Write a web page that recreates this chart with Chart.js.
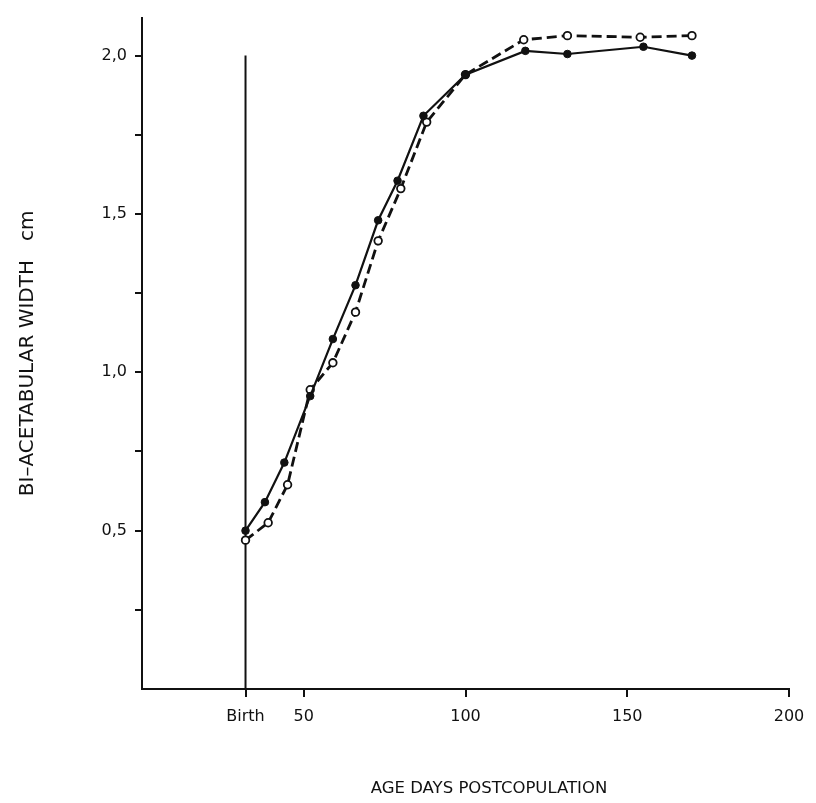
<!DOCTYPE html>
<html lang="en">
<head>
    <meta charset="UTF-8">
    <title>Bi-acetabular width</title>
    <script src="https://cdn.jsdelivr.net/npm/chart.js@4/dist/chart.umd.min.js"></script>
    <style>
        html, body { margin: 0; padding: 0; background: #fff; }
        .grafica { width: 816px; height: 803px; }
    </style>
</head>
<body>
    <div class="grafica">
        <canvas id="miCanvas" width="816" height="803"></canvas>
    </div>
    <script>
        // age in days postcopulation, width in cm
        const birthDay = 32;
        const solidAge = [32, 38, 44, 52, 59, 66, 73, 79, 87, 100, 118.5, 131.5, 155, 170];
        const solidWidth = [0.50, 0.59, 0.715, 0.925, 1.105, 1.275, 1.48, 1.605, 1.81, 1.94, 2.015, 2.005, 2.028, 2.0];
        const openAge = [32, 39, 45, 52, 59, 66, 73, 80, 88, 100, 118, 131.5, 154, 170];
        const openWidth = [0.47, 0.525, 0.645, 0.945, 1.03, 1.19, 1.415, 1.58, 1.79, 1.94, 2.05, 2.063, 2.058, 2.063];

        const xTicks = [32, 50, 100, 150, 200];
        const xTickLabels = ['Birth', '50', '100', '150', '200'];
        const yTicks = [0.25, 0.5, 0.75, 1.0, 1.25, 1.5, 1.75, 2.0];
        const yTickLabels = ['', '0,5', '', '1,0', '', '1,5', '', '2,0'];

        const toPoints = (xs, ys) => xs.map((x, i) => ({x: x, y: ys[i]}));

        const font = '"DejaVu Sans", Verdana, sans-serif';

        // x title sits a little right of the axis centre
        const xTitleShift = {
            id: 'xTitleShift',
            beforeDraw(chart) {
                chart.scales.x.options.title.display = false;
            },
            afterDraw(chart) {
                const ctx = chart.ctx;
                ctx.save();
                ctx.fillStyle = '#111';
                ctx.font = '16.5px ' + font;
                ctx.textAlign = 'center';
                ctx.textBaseline = 'middle';
                ctx.fillText('AGE DAYS POSTCOPULATION', 489, 789);
                ctx.restore();
            }
        };

        const miCanvas = document.getElementById('miCanvas').getContext('2d');
        new Chart(miCanvas, {
            type: 'line',
            data: {
                datasets: [
                    {
                        label: 'solid',
                        data: toPoints(solidAge, solidWidth),
                        borderColor: '#111',
                        borderWidth: 2.2,
                        pointRadius: 3.8,
                        pointBackgroundColor: '#111',
                        pointBorderColor: '#111',
                        pointBorderWidth: 1,
                        tension: 0,
                        order: 0
                    },
                    {
                        label: 'open',
                        data: toPoints(openAge, openWidth),
                        borderColor: '#111',
                        borderWidth: 2.8,
                        borderDash: [10, 5],
                        pointRadius: 3.8,
                        pointBackgroundColor: '#fff',
                        pointBorderColor: '#111',
                        pointBorderWidth: 1.8,
                        tension: 0,
                        order: 1
                    },
                    {
                        label: 'birth',
                        data: [{x: birthDay, y: 0}, {x: birthDay, y: 2.0}],
                        borderColor: '#111',
                        borderWidth: 2,
                        pointRadius: 0,
                        order: 2
                    }
                ]
            },
            options: {
                responsive: false,
                animation: false,
                layout: { padding: { top: 15, right: 27, bottom: 0, left: 0 } },
                plugins: { legend: { display: false }, tooltip: { enabled: false } },
                scales: {
                    x: {
                        type: 'linear',
                        min: 0,
                        max: 200,
                        afterBuildTicks: (scale) => { scale.ticks = xTicks.map(v => ({value: v})); },
                        afterFit: (scale) => { scale.height = 803 - 689; },
                        ticks: {
                            color: '#111',
                            font: { family: font, size: 16 },
                            padding: 10,
                            maxRotation: 0,
                            autoSkip: false,
                            callback: (v) => xTickLabels[xTicks.indexOf(v)]
                        },
                        grid: { drawOnChartArea: false, drawTicks: true, tickLength: 8, tickColor: '#111', lineWidth: 2 },
                        border: { display: true, color: '#111', width: 2 },
                        title: { display: false }
                    },
                    y: {
                        type: 'linear',
                        min: 0,
                        max: 2.12,
                        afterBuildTicks: (scale) => { scale.ticks = yTicks.map(v => ({value: v})); },
                        afterFit: (scale) => { scale.width = 142; },
                        ticks: {
                            color: '#111',
                            font: { family: font, size: 16 },
                            padding: 8,
                            autoSkip: false,
                            callback: (v) => yTickLabels[yTicks.indexOf(v)]
                        },
                        grid: { drawOnChartArea: false, drawTicks: true, tickLength: 7, tickColor: '#111', lineWidth: 2 },
                        border: { display: true, color: '#111', width: 2 },
                        title: {
                            display: true,
                            text: 'BI\u2013ACETABULAR WIDTH   cm',
                            color: '#111',
                            font: { family: font, size: 20 },
                            padding: { top: 16, bottom: 0 }
                        }
                    }
                }
            },
            plugins: [xTitleShift]
        });
    </script>
</body>
</html>
